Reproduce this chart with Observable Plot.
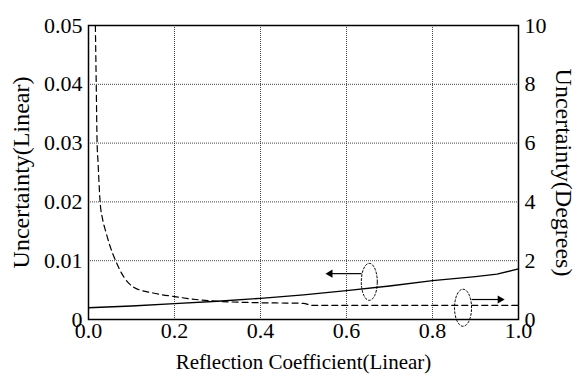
<!DOCTYPE html>
<html>
<head>
<meta charset="utf-8">
<script src="https://cdn.jsdelivr.net/npm/d3@7"></script>
<script src="https://cdn.jsdelivr.net/npm/@observablehq/plot@0.6"></script>
<style>
  body { margin: 0; background: #fff; }
  #chart svg, #chart svg text { font-family: "Liberation Serif", "Times New Roman", "DejaVu Serif", serif !important; }
</style>
</head>
<body>
<div id="chart"></div>
<script>
// Solid line: uncertainty (linear), left axis
const linX = [0, 0.1, 0.2, 0.3, 0.4, 0.5, 0.6, 0.7, 0.8, 0.9, 0.95, 1.0];
const linY = [0.0020, 0.0023, 0.0027, 0.0031, 0.0036, 0.0042, 0.0049, 0.0057, 0.0066, 0.0073, 0.0077, 0.0086];

// Dashed line: uncertainty (degrees), right axis
const degX = [0.016, 0.018, 0.02, 0.022, 0.027, 0.033, 0.04, 0.05, 0.063, 0.082, 0.105, 0.15, 0.2, 0.25, 0.3, 0.4, 0.5, 0.52, 0.6, 0.8, 1.0];
const degY = [10, 8, 6, 5.4, 4, 3.4, 3.0, 2.5, 2.0, 1.45, 1.1, 0.9, 0.78, 0.68, 0.62, 0.57, 0.55, 0.48, 0.48, 0.48, 0.48];

const xTicks = [0, 0.2, 0.4, 0.6, 0.8, 1.0];
const xTickLabels = ["0.0", "0.2", "0.4", "0.6", "0.8", "1.0"];
const yTicks = [0, 0.01, 0.02, 0.03, 0.04, 0.05];
const yTickLabels = ["0", "0.01", "0.02", "0.03", "0.04", "0.05"];
const y2TickLabels = ["0", "2", "4", "6", "8", "10"];

const xLabel = "Reflection Coefficient(Linear)";
const yLabel = "Uncertainty(Linear)";
const y2Label = "Uncertainty(Degrees)";

// Annotations: ellipses (center x, center y in linear units, radii) and arrows
const ellipses = [
  {cx: 0.653, cy: 0.0064, rx: 0.0186, ry: 0.00315},
  {cx: 0.871, cy: 0.0020, rx: 0.0198, ry: 0.00315}
];
const arrows = [
  {x1: 0.635, y1: 0.0078, x2: 0.562, y2: 0.0078},
  {x1: 0.891, y1: 0.0034, x2: 0.957, y2: 0.0034}
];

const degScale = 0.05 / 10; // degrees -> linear-axis units

const linData = linX.map((x, i) => ({x, y: linY[i]}));
const degData = degX.map((x, i) => ({x, y: degY[i] * degScale}));

const angles = d3.range(0, 360, 6).map(a => a * Math.PI / 180);
const ellipsePts = ellipses.flatMap((e, k) =>
  angles.map(t => ({k, x: e.cx + e.rx * Math.cos(t), y: e.cy + e.ry * Math.sin(t)})));

const tickFs = 22;
const xLabFs = 21;
const yLabFs = 24;
const font = "Liberation Serif";

const chart = Plot.plot({
  width: 577,
  height: 376,
  marginLeft: 88,
  marginRight: 59,
  marginTop: 25,
  marginBottom: 57,
  style: {fontFamily: font, fontSize: tickFs + "px", background: "#fff", overflow: "visible"},
  x: {domain: [0, 1]},
  y: {domain: [0, 0.05]},
  marks: [
    Plot.gridX(xTicks, {stroke: "#444", strokeOpacity: 1, strokeWidth: 1, strokeDasharray: "1,1"}),
    Plot.gridY(yTicks, {stroke: "#444", strokeOpacity: 1, strokeWidth: 1, strokeDasharray: "1,1"}),
    Plot.axisX({ticks: xTicks, tickFormat: (d, i) => xTickLabels[i], tickSize: 0, tickPadding: 3, fontSize: tickFs, fontFamily: font, fill: "#000", label: null}),
    Plot.axisY({ticks: yTicks, tickFormat: (d, i) => yTickLabels[i], tickSize: 0, tickPadding: 6, fontSize: tickFs, fontFamily: font, fill: "#000", label: null}),
    Plot.axisY({anchor: "right", ticks: yTicks, tickFormat: (d, i) => y2TickLabels[i], tickSize: 0, tickPadding: 6, fontSize: tickFs, fontFamily: font, fill: "#000", label: null}),
    Plot.frame({stroke: "#000", strokeWidth: 1.5}),
    Plot.line(linData, {x: "x", y: "y", stroke: "#000", strokeWidth: 1.3}),
    Plot.line(degData, {x: "x", y: "y", curve: "monotone-x", stroke: "#000", strokeWidth: 1.2, strokeDasharray: "6,4"}),
    Plot.line(ellipsePts, {x: "x", y: "y", z: "k", curve: "linear-closed", stroke: "#000", strokeWidth: 1, strokeDasharray: "2,2"}),
    Plot.link(arrows, {x1: "x1", y1: "y1", x2: "x2", y2: "y2", stroke: "#000", strokeWidth: 1.2}),
    Plot.dot(arrows, {x: "x2", y: "y2", symbol: "triangle", r: 3, fill: "#000", stroke: null, rotate: d => d.x2 < d.x1 ? -90 : 90}),
    Plot.text([xLabel], {frameAnchor: "bottom", textAnchor: "middle", lineAnchor: "middle", dy: 43, fontSize: xLabFs, fontFamily: font, fill: "#000"}),
    Plot.text([yLabel], {frameAnchor: "left", textAnchor: "middle", lineAnchor: "middle", rotate: -90, dx: -67, fontSize: yLabFs, fontFamily: font, fill: "#000"}),
    Plot.text([y2Label], {frameAnchor: "right", textAnchor: "middle", lineAnchor: "middle", rotate: 90, dx: 45, fontSize: yLabFs, fontFamily: font, fill: "#000"})
  ]
});
document.getElementById("chart").appendChild(chart);
</script>
</body>
</html>
